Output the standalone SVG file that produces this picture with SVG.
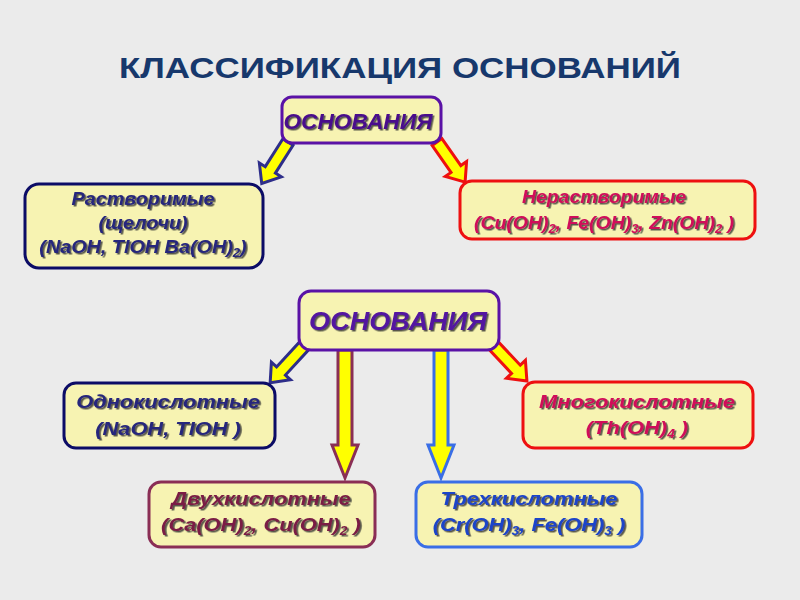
<svg xmlns="http://www.w3.org/2000/svg" width="800" height="600" viewBox="0 0 800 600">
<defs>
<filter id="sh" x="-10%" y="-20%" width="130%" height="150%">
<feDropShadow dx="1.5" dy="1.5" stdDeviation="0.4" flood-color="#333" flood-opacity="0.8"/>
</filter>
</defs>
<style>
.box{fill:#f7f3b2;stroke-width:3}
.t{font-family:"Liberation Sans",Arial,sans-serif;font-weight:bold;font-style:italic;text-anchor:middle;filter:url(#sh)}
.arr{fill:#ffff00;stroke-width:3;stroke-linejoin:miter}
.s{font-size:12px}
</style>
<rect width="800" height="600" fill="#ebebeb"/>
<text x="400" y="78" font-family="'Liberation Sans',Arial,sans-serif" font-weight="bold" font-size="30" fill="#17386c" text-anchor="middle" textLength="562" lengthAdjust="spacingAndGlyphs">КЛАССИФИКАЦИЯ ОСНОВАНИЙ</text>

<g id="connectors">
<polygon class="arr" stroke="#2e2e8a" points="-6,0 6,0 6,33 13,33 0,49 -13,33 -6,33" transform="translate(288,142) rotate(32.4)"/>
<polygon class="arr" stroke="#ee1010" points="-6,0 6,0 6,33 13,33 0,49 -13,33 -6,33" transform="translate(437,142) rotate(-35)"/>
<polygon class="arr" stroke="#2e2e8a" points="-6,0 6,0 6,34 13,34 0,50 -13,34 -6,34" transform="translate(304,346) rotate(42.6)"/>
<polygon class="arr" stroke="#ee1010" points="-6,0 6,0 6,32 13,32 0,48 -13,32 -6,32" transform="translate(494,346) rotate(-43.3)"/>
<polygon class="arr" stroke="#8a2e55" points="338,350 352,350 352,445 358,445 345,478 332,445 338,445"/>
<polygon class="arr" stroke="#3a6ee6" points="434,350 448,350 448,445 454,445 441,478 428,445 434,445"/>
</g>

<g id="osn1">
<rect class="box" x="282" y="97" width="159" height="46" rx="10" stroke="#5a12a6"/>
<text class="t" x="0" y="129" font-size="22" fill="#4a0a8c" transform="translate(358 0) scale(1.03 1)">ОСНОВАНИЯ</text>
</g>

<g id="rastv">
<rect class="box" x="25" y="184" width="238" height="84" rx="14" stroke="#0c0c66"/>
<text class="t" font-size="18" fill="#26267c" transform="translate(143 0) scale(1.1 1)"><tspan x="0" y="205">Растворимые</tspan><tspan x="0" y="229">(щелочи)</tspan><tspan x="0" y="253">(NaOH, TlOH Ba(OH)<tspan class="s" dy="4">2</tspan><tspan dy="-4">)</tspan></tspan></text>
</g>

<g id="nerastv">
<rect class="box" x="460" y="181" width="295" height="58" rx="12" stroke="#ee1010"/>
<text class="t" font-size="18" fill="#d0105a" transform="translate(604 0) scale(1.08 1)"><tspan x="0" y="203">Нерастворимые</tspan><tspan x="0" y="229">(Cu(OH)<tspan class="s" dy="4">2</tspan><tspan dy="-4">, Fe(OH)</tspan><tspan class="s" dy="4">3</tspan><tspan dy="-4">, Zn(OH)</tspan><tspan class="s" dy="4">2</tspan><tspan dy="-4"> )</tspan></tspan></text>
</g>

<g id="osn2">
<rect class="box" x="299" y="291" width="200" height="59" rx="12" stroke="#5a12a6"/>
<text class="t" x="0" y="330" font-size="26" fill="#5212a0" transform="translate(398 0) scale(1.04 1)">ОСНОВАНИЯ</text>
</g>

<g id="odno">
<rect class="box" x="64" y="383" width="211" height="65" rx="12" stroke="#0c0c66"/>
<text class="t" font-size="19" fill="#26267c" transform="translate(168 0) scale(1.15 1)"><tspan x="0" y="408">Однокислотные</tspan><tspan x="0" y="435">(NaOH, TlOH )</tspan></text>
</g>

<g id="mnogo">
<rect class="box" x="523" y="382" width="230" height="66" rx="12" stroke="#ee1010"/>
<text class="t" font-size="19" fill="#d0105a" transform="translate(637 0) scale(1.15 1)"><tspan x="0" y="408">Многокислотные</tspan><tspan x="0" y="434">(Th(OH)<tspan class="s" dy="4">4</tspan><tspan dy="-4"> )</tspan></tspan></text>
</g>

<g id="dvuh">
<rect class="box" x="149" y="482" width="226" height="65" rx="12" stroke="#8a2e55"/>
<text class="t" font-size="19" fill="#7a1f45" transform="translate(261 0) scale(1.15 1)"><tspan x="0" y="505">Двухкислотные</tspan><tspan x="0" y="531">(Ca(OH)<tspan class="s" dy="4">2</tspan><tspan dy="-4">, Cu(OH)</tspan><tspan class="s" dy="4">2</tspan><tspan dy="-4"> )</tspan></tspan></text>
</g>

<g id="treh">
<rect class="box" x="416" y="482" width="226" height="65" rx="12" stroke="#3a6ee6"/>
<text class="t" font-size="19" fill="#1e44c8" transform="translate(529 0) scale(1.15 1)"><tspan x="0" y="505">Трехкислотные</tspan><tspan x="0" y="531">(Cr(OH)<tspan class="s" dy="4">3</tspan><tspan dy="-4">, Fe(OH)</tspan><tspan class="s" dy="4">3</tspan><tspan dy="-4"> )</tspan></tspan></text>
</g>
</svg>
